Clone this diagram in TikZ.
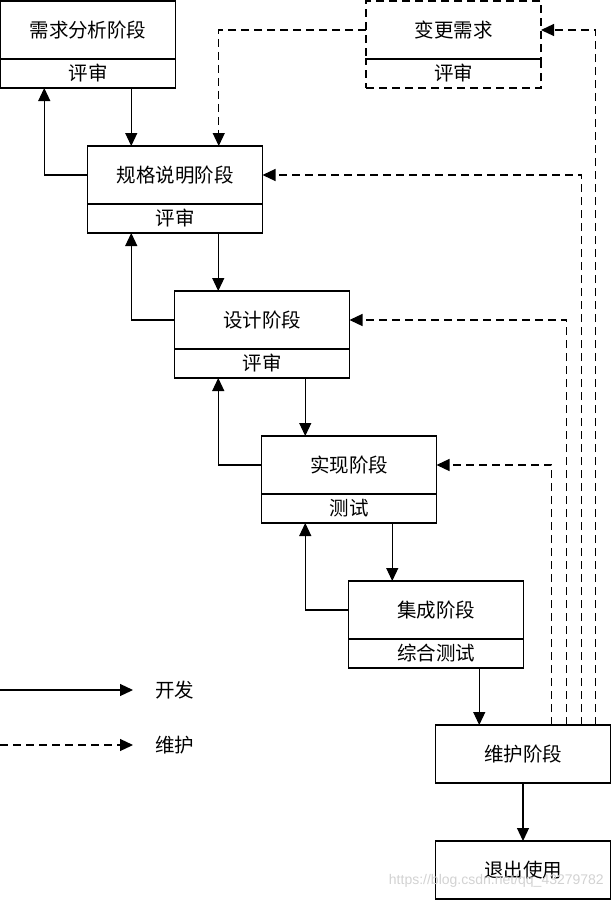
\documentclass[tikz,border=0pt]{standalone}
\usepackage{fontspec}
\setmainfont{Noto Sans CJK SC}
\newfontfamily\urlfont{Liberation Sans}
\usetikzlibrary{positioning,calc,arrows.meta}

\tikzset{
    stage/.style={draw, line width=1.2pt, minimum width=175pt, minimum height=58pt,
        inner sep=0pt, outer sep=0pt, font=\fontsize{19.5}{22}\selectfont},
    review/.style={stage, minimum height=29pt},
    dashbox/.style={dash pattern=on 8pt off 5pt},
    flow/.style={line width=1.2pt, -{Triangle[length=13pt,width=12pt]}},
    upkeep/.style={flow, dashbox},
    legend/.style={inner sep=0pt, font=\fontsize{19.5}{22}\selectfont}
}

\begin{document}
\begin{tikzpicture}[x=1pt, y=-1pt]
        \useasboundingbox (0,0) rectangle (611,900);
        \pgfmathsetmacro{\stepX}{87}
        \pgfmathsetmacro{\stepY}{145}
        \foreach \name/\txt/\sub [count=\i from 0] in {req/需求分析阶段/评审, spec/规格说明阶段/评审,
                design/设计阶段/评审, impl/实现阶段/测试, integ/集成阶段/综合测试}{
            \node[stage] (\name) at (88 + \i*\stepX, 30 + \i*\stepY) {\txt};
            \node[review, below=0pt of \name] (\name-r) {\sub};
        }
        \node[stage] (maint) at (523, 754) {维护阶段};
        \node[stage] (exit) at (523, 870) {退出使用};
        \node[stage, dashbox] (change) at (453.5, 30) {变更需求};
        \node[review, dashbox, below=0pt of change] (change-r) {评审};
        \draw[line width=1.2pt] (change.south west) -- (change.south east);

        \foreach \a/\b in {req/spec, spec/design, design/impl, impl/integ}{
            \coordinate (\b-in) at ($(\b.north west)!.25!(\b.north east)$);
            \draw[flow] (\a-r.south -| \b-in) -- (\b-in);
            \draw[flow] (\b.west) -| ($(\a-r.south west)!.25!(\a-r.south east)$);
        }
        \coordinate (maint-in) at ($(maint.north west)!.25!(maint.north east)$);
        \draw[flow] (integ-r.south -| maint-in) -- (maint-in);
        \draw[flow] (maint) -- (exit);

        \draw[upkeep] (change.west) -| ($(spec.north west)!.75!(spec.north east)$);
        \foreach \target/\dx in {impl/59, design/44, spec/29, change/15}{
            \draw[upkeep] ([xshift=-\dx]maint.north east) |- (\target.east);
        }

        \coordinate (devA) at (0, 690);
        \coordinate (devB) at (133, 690);
        \coordinate (keepA) at (0, 745);
        \coordinate (keepB) at (133, 745);
        \draw[flow] (devA) -- (devB);
        \draw[upkeep] (keepA) -- (keepB);
        \node[legend, right=22pt of devB] (devlbl) {开发};
        \node[legend, right=22pt of keepB] (keeplbl) {维护};

        \node[anchor=east, inner sep=0pt, text=gray!35, font=\urlfont\fontsize{14}{16}\selectfont]
            (mark) at (604, 881) {https://blog.csdn.net/qq\_43279782};
    \end{tikzpicture}
\end{document}
